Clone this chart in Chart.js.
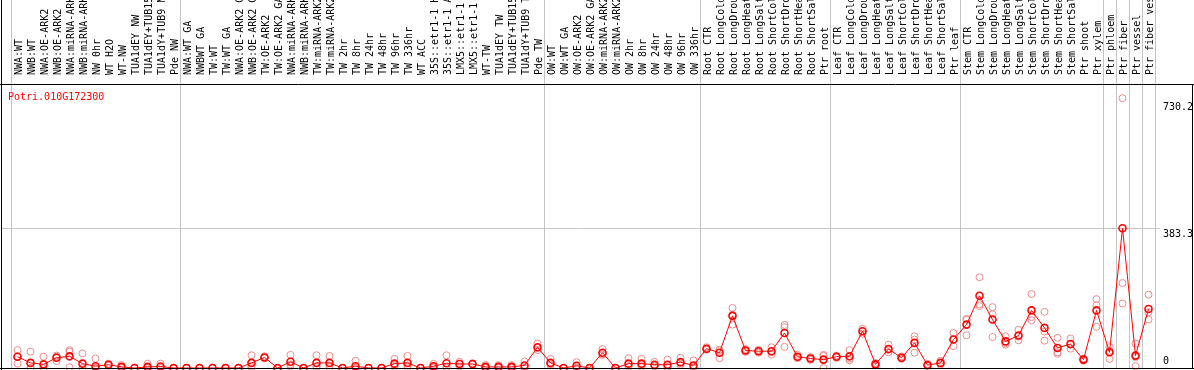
<!DOCTYPE html>
<html>
<head>
<meta charset="utf-8">
<script src="https://cdn.jsdelivr.net/npm/chart.js@4.4.1/dist/chart.umd.min.js"></script>
<style>
  html, body { margin: 0; padding: 0; background: #fff; }
</style>
</head>
<body>
<canvas id="efpChart" width="1194" height="370"></canvas>
<script>
// --- data ---
const geneId = 'Potri.010G172300';

const sampleLabels = [
  // NW group
  'NWA:WT', 'NWB:WT', 'NWA:OE-ARK2', 'NWB:OE-ARK2', 'NWA:miRNA-ARK2', 'NWB:miRNA-ARK2', 'NW 0hr',
  'WT H2O', 'WT-NW', 'TUA1dEY NW', 'TUA1dEY+TUB15', 'TUA1dY+TUB9 NW', 'Pde NW',
  // TW group
  'NWA:WT GA', 'NWBWT GA', 'TW:WT', 'TW:WT GA', 'NWA:OE-ARK2 GA', 'NWB:OE-ARK2 GA', 'TW:OE-ARK2',
  'TW:OE-ARK2 GA', 'NWA:miRNA-ARK2', 'NWB:miRNA-ARK2', 'TW:miRNA-ARK2', 'TW:miRNA-ARK2', 'TW 2hr',
  'TW 8hr', 'TW 24hr', 'TW 48hr', 'TW 96hr', 'TW 336hr', 'WT ACC', '35S::etr1-1 H2', '35S::etr1-1 AC',
  'LMX5::etr1-1 H', 'LMX5::etr1-1 A', 'WT-TW', 'TUA1dEY TW', 'TUA1dEY+TUB15', 'TUA1dY+TUB9 TW', 'Pde TW',
  // OW group
  'OW:WT', 'OW:WT GA', 'OW:OE-ARK2', 'OW:OE-ARK2 GA', 'OW:miRNA-ARK2', 'OW:miRNA-ARK2', 'OW 2hr',
  'OW 8hr', 'OW 24hr', 'OW 48hr', 'OW 96hr', 'OW 336hr',
  // root
  'Root CTR', 'Root LongCold', 'Root LongDroug', 'Root LongHeat', 'Root LongSalt', 'Root ShortCold',
  'Root ShortDrou', 'Root ShortHeat', 'Root ShortSalt', 'Ptr root',
  // leaf
  'Leaf CTR', 'Leaf LongCold', 'Leaf LongDroug', 'Leaf LongHeat', 'Leaf LongSalt', 'Leaf ShortCold',
  'Leaf ShortDrou', 'Leaf ShortHeat', 'Leaf ShortSalt', 'Ptr leaf',
  // stem
  'Stem CTR', 'Stem LongCold', 'Stem LongDroug', 'Stem LongHeat', 'Stem LongSalt', 'Stem ShortCold',
  'Stem ShortDrou', 'Stem ShortHeat', 'Stem ShortSalt', 'Ptr shoot', 'Ptr xylem',
  // single tissues
  'Ptr phloem', 'Ptr fiber', 'Ptr vessel', 'Ptr fiber vess'
];

// number of samples between the grey separators
const groupSizes = [13, 28, 12, 10, 10, 11, 1, 1, 1, 1];

// mean expression (dark red line)
const means = [
  31, 14, 10, 28, 32, 12, 5, 9, 3, 0, 3, 4, 0,
  0, 0, 0, 0, 0, 14, 29, 0, 17, 0, 14, 14, 0, 5, 0, 0, 12, 14, 0, 5, 13, 11, 11, 3, 3, 3, 7, 57,
  14, 0, 6, 0, 42, 0, 12, 12, 9, 9, 16, 7,
  53, 42, 143, 48, 46, 46, 96, 31, 26, 23,
  31, 32, 101, 10, 52, 28, 69, 8, 14, 78,
  119, 198, 133, 73, 89, 158, 110, 55, 66, 23, 158,
  43, 383.3, 34, 162
];

// individual replicates (pink circles)
const rep1 = [
  49, 45, 31, 34, 49, 40, 26, 12, 8, 0, 12, 12, 0,
  0, 0, 0, 0, 0, 35, 32, 0, 36, 0, 35, 33, 0, 20, 0, 0, 25, 33, 0, 11, 35, 17, 13, 8, 8, 8, 18, 67,
  25, 0, 16, 0, 52, 0, 27, 25, 17, 23, 28, 21,
  57, 50, 165, 52, 50, 57, 118, 36, 30, 36,
  34, 49, 108, 14, 64, 32, 87, 11, 20, 96,
  135, 249, 167, 87, 105, 203, 154, 83, 81, 26, 189,
  57, 740, 67, 201
];
const rep2 = [
  12, 0, 0, 19, 2, 0, 0, 8, 0, 0, 0, 0, 0,
  0, 0, 0, 0, 0, 5, 28, 0, 10, 0, 5, 7, 0, 0, 0, 0, 8, 7, 0, 3, 3, 12, 11, 1, 1, 1, 3, 55,
  10, 0, 2, 0, 38, 0, 6, 8, 6, 3, 12, 0,
  52, 49, 146, 48, 46, 44, 112, 30, 26, 33,
  31, 26, 101, 9, 50, 27, 78, 7, 13, 78,
  132, 175, 147, 68, 86, 140, 100, 43, 64, 23, 172,
  47, 233, 30, 153
];
const rep3 = [
  32, 0, 0, 31, 45, 0, 0, 6, 1, 0, 0, 0, 0,
  0, 0, 0, 0, 0, 2, 27, 0, 5, 0, 2, 2, 0, 0, 0, 0, 3, 2, 0, 1, 1, 4, 9, 0, 0, 0, 0, 49,
  7, 0, 0, 0, 36, 0, 3, 3, 4, 1, 8, 0,
  50, 27, 119, 44, 42, 37, 58, 27, 22, 0,
  28, 21, 94, 7, 43, 25, 42, 6, 9, 60,
  90, 170, 85, 64, 76, 131, 75, 39, 53, 20, 113,
  25, 177, 5, 133
];

// right-hand value labels: zero, highest mean, highest replicate
const yTicks = [0, 383.3, 730.2];

// --- look ---
const MONO = "10px 'DejaVu Sans Mono', monospace";
const RED = '#ff0000';
const PINK = 'rgb(236,140,140)';
const SEP_GREY = '#c4c4c4';
const SLOT_PX = 13;          // width of one sample column
const LEFT_GAP_PX = 10;      // frame edge to first separator
const RIGHT_GAP_PX = 38;     // last separator to frame edge (value labels live here)
const LABEL_BAND_PX = 84;    // height of the rotated sample-name band

const nSamples = sampleLabels.length;
const asPoints = arr => arr.map((v, i) => ({ x: i, y: v }));

// separators, value labels, frame and gene id
const efpFrame = {
  id: 'efpFrame',
  beforeDatasetsDraw(chart) {
    const { ctx, chartArea: a, scales: { x, y } } = chart;
    ctx.save();
    ctx.strokeStyle = SEP_GREY;
    ctx.lineWidth = 1;
    let edge = -0.5;
    const seps = [edge];
    groupSizes.forEach(n => { edge += n; seps.push(edge); });
    seps.forEach(v => {
      const px = Math.round(x.getPixelForValue(v)) + 0.5;
      ctx.beginPath();
      ctx.moveTo(px, 0);
      ctx.lineTo(px, a.bottom);
      ctx.stroke();
    });
    // only the highest-mean level gets a gridline
    const gy = Math.round(y.getPixelForValue(yTicks[1])) + 0.5;
    ctx.beginPath();
    ctx.moveTo(a.left, gy);
    ctx.lineTo(x.getPixelForValue(edge) + 5, gy);
    ctx.stroke();
    ctx.restore();
  },
  afterDraw(chart) {
    const { ctx, chartArea: a, scales: { x, y } } = chart;
    ctx.save();
    ctx.strokeStyle = '#000';
    ctx.lineWidth = 1;
    ctx.beginPath();
    ctx.moveTo(0, a.top + 0.5); ctx.lineTo(chart.width, a.top + 0.5);
    ctx.moveTo(0, a.bottom + 0.5); ctx.lineTo(chart.width, a.bottom + 0.5);
    ctx.moveTo(1.5, 0); ctx.lineTo(1.5, chart.height);
    ctx.moveTo(a.right - 0.5, a.top); ctx.lineTo(a.right - 0.5, a.bottom);
    ctx.stroke();

    ctx.font = MONO;
    ctx.fillStyle = '#000';
    ctx.textAlign = 'left';
    const lx = x.getPixelForValue(nSamples - 0.5) + 8;
    yTicks.forEach(v => {
      const py = y.getPixelForValue(v);
      if (v === 0) {
        ctx.textBaseline = 'bottom';
        ctx.fillText('0', lx, a.bottom - 2);
      } else {
        ctx.textBaseline = 'top';
        ctx.fillText(String(v), lx, py + 1);
      }
    });

    ctx.fillStyle = RED;
    ctx.textBaseline = 'middle';
    ctx.fillText(geneId, 8, a.top + 13);
    ctx.restore();
  }
};

const repStyle = {
  type: 'scatter',
  showLine: false,
  pointRadius: 3.5,
  pointBorderWidth: 1,
  pointBorderColor: PINK,
  pointBackgroundColor: 'rgba(0,0,0,0)',
  clip: false,
  order: 2
};

new Chart(document.getElementById('efpChart'), {
  type: 'line',
  data: {
    datasets: [
      {
        label: 'mean',
        data: asPoints(means),
        borderColor: RED,
        borderWidth: 1,
        pointRadius: 3.5,
        pointBorderWidth: 1.6,
        pointBorderColor: RED,
        pointBackgroundColor: 'rgba(0,0,0,0)',
        tension: 0,
        clip: false,
        order: 1
      },
      { ...repStyle, label: 'rep 1', data: asPoints(rep1) },
      { ...repStyle, label: 'rep 2', data: asPoints(rep2) },
      { ...repStyle, label: 'rep 3', data: asPoints(rep3) }
    ]
  },
  options: {
    responsive: false,
    animation: false,
    events: [],
    layout: { autoPadding: false, padding: { left: 1, right: 1, top: 0, bottom: 2 } },
    plugins: { legend: { display: false }, tooltip: { enabled: false } },
    scales: {
      x: {
        type: 'linear',
        position: 'top',
        min: -0.5 - LEFT_GAP_PX / SLOT_PX,
        max: nSamples - 0.5 + RIGHT_GAP_PX / SLOT_PX,
        afterBuildTicks: s => { s.ticks = sampleLabels.map((_, i) => ({ value: i })); },
        afterFit: s => {
          s.height = LABEL_BAND_PX;
          s.paddingLeft = 0; s.paddingRight = 0; s.paddingTop = 0; s.paddingBottom = 0;
        },
        grid: { display: false },
        border: { display: false },
        ticks: {
          autoSkip: false,
          minRotation: 90,
          maxRotation: 90,
          padding: 1,
          labelOffset: 14,
          color: '#000',
          font: { family: "'DejaVu Sans Mono', monospace", size: 10 },
          callback: v => sampleLabels[v]
        }
      },
      y: {
        display: false,
        min: 0,
        max: 779
      }
    }
  },
  plugins: [efpFrame]
});
</script>
</body>
</html>
